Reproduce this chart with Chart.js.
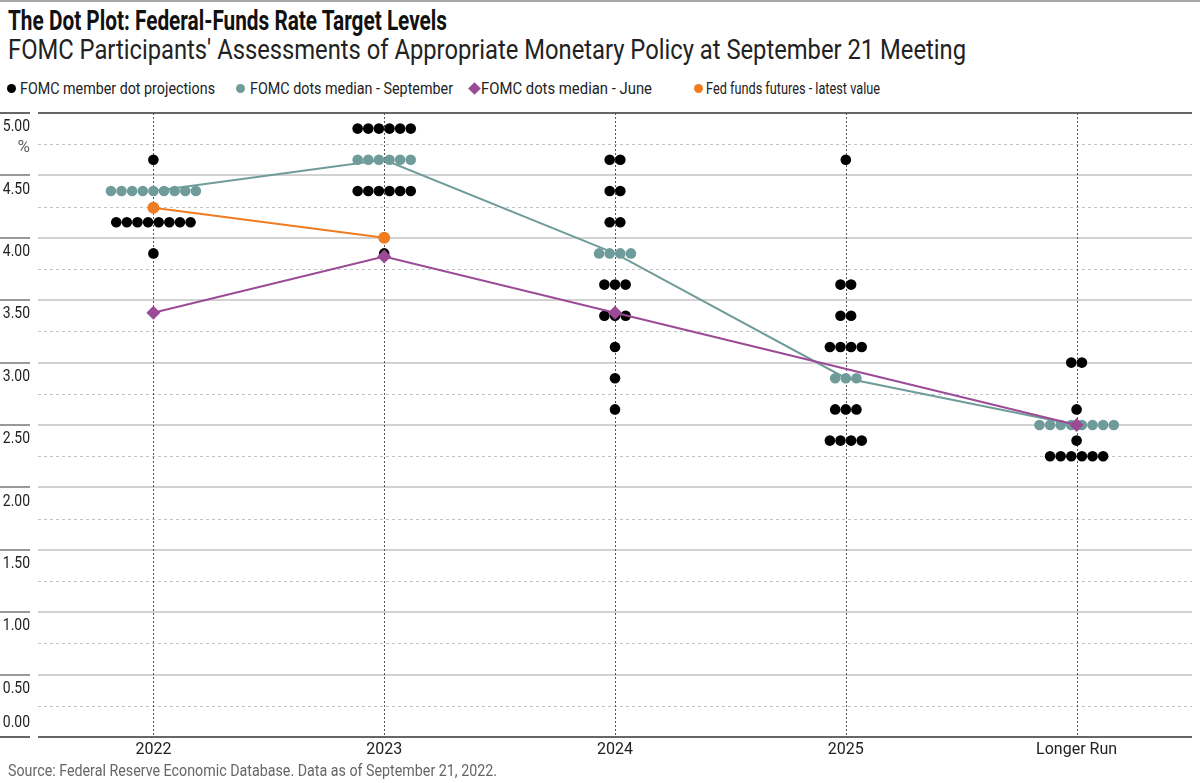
<!DOCTYPE html>
<html>
<head>
<meta charset="utf-8">
<script src="https://cdn.jsdelivr.net/npm/chart.js@4.4.1/dist/chart.umd.min.js"></script>
<style>
  body { margin: 0; background: #fff; }
  #wrap { position: relative; width: 1200px; height: 783px; overflow: hidden;
          font-family: Roboto, "Liberation Sans", sans-serif; color: #222; }
  #topline { position: absolute; left: 0; top: 0; width: 1200px; height: 2px; background: #a6a6a6; }
  .txt { position: absolute; white-space: nowrap; line-height: 1; transform-origin: left center; }
  #title { left: 8px; top: 7px; font-size: 28px; font-weight: bold; color: #111; }
  #subtitle { left: 8px; top: 36px; font-size: 28px; color: #222; }
  #source { left: 8px; top: 762px; font-size: 17px; color: #666; }
  .legtxt { top: 80px; font-size: 17px; color: #222; }
  .mk { position: absolute; width: 9px; height: 9px; }
  canvas { position: absolute; left: 0; top: 0; }
</style>
</head>
<body>
<div id="wrap">
  <div id="topline"></div>
  <div class="txt" id="title" data-w="439">The Dot Plot: Federal-Funds Rate Target Levels</div>
  <div class="txt" id="subtitle" data-w="958">FOMC Participants' Assessments of Appropriate Monetary Policy at September 21 Meeting</div>

  <div class="mk" style="left:7px;top:84px;border-radius:50%;background:#000"></div>
  <div class="txt legtxt" style="left:20px" data-w="195">FOMC member dot projections</div>
  <div class="mk" style="left:236px;top:84px;border-radius:50%;background:#6f9c9a"></div>
  <div class="txt legtxt" style="left:250px" data-w="203">FOMC dots median - September</div>
  <div class="mk" style="left:470px;top:84px;background:#9b4a96;transform:rotate(45deg)"></div>
  <div class="txt legtxt" style="left:481px" data-w="171">FOMC dots median - June</div>
  <div class="mk" style="left:694px;top:84px;border-radius:50%;background:#f07c22"></div>
  <div class="txt legtxt" style="left:706px" data-w="174">Fed funds futures - latest value</div>

  <canvas id="dotChart" width="1200" height="783"></canvas>
  <div class="txt" id="source" data-w="489">Source: Federal Reserve Economic Database. Data as of September 21, 2022.</div>
</div>
<script>
const categories = ["2022", "2023", "2024", "2025", "Longer Run"];

// member projections: rate levels and number of participants at each level
const levels2022 = [4.625, 4.375, 4.125, 3.875];
const counts2022 = [1, 9, 8, 1];
const levels2023 = [4.875, 4.625, 4.375, 3.875];
const counts2023 = [6, 6, 6, 1];
const levels2024 = [4.625, 4.375, 4.125, 3.875, 3.625, 3.375, 3.125, 2.875, 2.625];
const counts2024 = [2, 2, 2, 4, 3, 3, 1, 1, 1];
const levels2025 = [4.625, 3.625, 3.375, 3.125, 2.875, 2.625, 2.375];
const counts2025 = [1, 2, 2, 4, 3, 3, 4];
const levelsLR = [3.0, 2.625, 2.5, 2.375, 2.25];
const countsLR = [2, 1, 8, 1, 6];

const septMedian = [4.375, 4.625, 3.875, 2.875, 2.5];
const juneMedian = [3.4, 3.85, 3.4, null, 2.5];
const fedFutures = [4.24, 4.0, null, null, null];

const yTicks = [0, 0.5, 1, 1.5, 2, 2.5, 3, 3.5, 4, 4.5, 5];
const yStep = 0.25;

const FONT = 'Roboto, "Liberation Sans", sans-serif';
const BLACK = "#000000";
const TEAL = "#6f9c9a";
const PURPLE = "#9b4a96";
const ORANGE = "#f07c22";
const DOT_STEP = 0.046; // horizontal gap between side-by-side dots, in category units

// squeeze html text to the condensed widths of the original
function fitText() {
  document.querySelectorAll("[data-w]").forEach((el) => {
    el.style.transform = "none";
    const w = el.getBoundingClientRect().width;
    el.style.transform = "scaleX(" + el.dataset.w / w + ")";
  });
}
fitText();
if (document.fonts) document.fonts.ready.then(fitText);

const allLevels = [levels2022, levels2023, levels2024, levels2025, levelsLR];
const allCounts = [counts2022, counts2023, counts2024, counts2025, countsLR];

const memberDots = [];
const medianDots = [];
allLevels.forEach((levels, i) => {
  levels.forEach((level, j) => {
    const n = allCounts[i][j];
    for (let k = 0; k < n; k++) {
      const pt = { x: i + (k - (n - 1) / 2) * DOT_STEP, y: level };
      if (level === septMedian[i]) medianDots.push(pt);
      else memberDots.push(pt);
    }
  });
});

const toXY = (arr) => arr.map((v, i) => ({ x: i, y: v }));

// grid lines, category guides and y labels
const gridPlugin = {
  id: "dotGrid",
  beforeDatasetsDraw(chart) {
    const { ctx, chartArea: a, scales } = chart;
    const y = scales.y;
    const x = scales.x;
    ctx.save();
    for (let v = 0; v <= 5.0001; v += yStep) {
      const val = Math.round(v * 100) / 100;
      const py = Math.round(y.getPixelForValue(val));
      const major = yTicks.includes(val);
      const edge = val === 0 || val === 5;
      ctx.beginPath();
      if (edge) {
        ctx.strokeStyle = "#666";
        ctx.lineWidth = 2;
        ctx.setLineDash([]);
      } else if (major) {
        ctx.strokeStyle = "#d2d2d2";
        ctx.lineWidth = 2;
        ctx.setLineDash([]);
      } else {
        ctx.strokeStyle = "#c4c4c4";
        ctx.lineWidth = 1;
        ctx.setLineDash([3, 3]);
      }
      const off = ctx.lineWidth === 1 ? 0.5 : 0;
      ctx.moveTo(a.left, py + off);
      ctx.lineTo(a.right, py + off);
      ctx.stroke();
      if (major) {
        ctx.beginPath();
        ctx.setLineDash([]);
        ctx.lineWidth = 2;
        ctx.strokeStyle = edge ? "#666" : "#999";
        ctx.moveTo(0, py);
        ctx.lineTo(30, py);
        ctx.stroke();
      }
    }
    ctx.setLineDash([2, 2]);
    ctx.strokeStyle = "#555";
    ctx.lineWidth = 1;
    categories.forEach((c, i) => {
      const px = Math.round(x.getPixelForValue(i)) + 0.5;
      ctx.beginPath();
      ctx.moveTo(px, a.top);
      ctx.lineTo(px, a.bottom);
      ctx.stroke();
    });
    ctx.setLineDash([]);
    ctx.font = "17px " + FONT;
    ctx.textAlign = "right";
    ctx.textBaseline = "middle";
    ctx.fillStyle = "#222";
    yTicks.forEach((val) => {
      const py = y.getPixelForValue(val);
      ctx.save();
      ctx.translate(30, val === 0 ? py - 14 : py + 14);
      ctx.scale(0.82, 1);
      ctx.fillText(val.toFixed(2), 0, 0);
      ctx.restore();
    });
    ctx.fillStyle = "#666";
    ctx.fillText("%", 30, y.getPixelForValue(5) + 35);
    ctx.restore();
  },
};

new Chart(document.getElementById("dotChart"), {
  type: "scatter",
  data: {
    datasets: [
      {
        label: "FOMC dots median - June",
        type: "line",
        data: toXY(juneMedian),
        borderColor: PURPLE,
        backgroundColor: PURPLE,
        borderWidth: 2,
        pointStyle: "rectRot",
        pointRadius: 7,
        pointBorderWidth: 0,
        spanGaps: true,
        order: 0,
      },
      {
        label: "Fed funds futures - latest value",
        type: "line",
        data: toXY(fedFutures),
        borderColor: ORANGE,
        backgroundColor: ORANGE,
        borderWidth: 2,
        pointRadius: 6,
        pointBorderWidth: 0,
        order: 1,
      },
      {
        label: "FOMC dots median - September",
        type: "line",
        data: toXY(septMedian),
        borderColor: TEAL,
        borderWidth: 2,
        pointRadius: 0,
        order: 2,
      },
      {
        label: "FOMC dots median - September",
        data: medianDots,
        backgroundColor: TEAL,
        pointRadius: 5.3,
        pointBorderWidth: 0,
        order: 3,
      },
      {
        label: "FOMC member dot projections",
        data: memberDots,
        backgroundColor: BLACK,
        pointRadius: 5.3,
        pointBorderWidth: 0,
        order: 4,
      },
    ],
  },
  options: {
    responsive: false,
    animation: false,
    clip: false,
    layout: { padding: { top: 113, left: 38, right: 8, bottom: 0 } },
    plugins: {
      legend: { display: false },
      tooltip: { enabled: false },
    },
    scales: {
      x: {
        type: "linear",
        min: -0.5,
        max: 4.5,
        afterFit: (s) => { s.height = 46; },
        afterBuildTicks: (s) => { s.ticks = categories.map((c, i) => ({ value: i })); },
        grid: { display: false, drawTicks: false },
        border: { display: false },
        ticks: {
          padding: 3,
          color: "#222",
          maxRotation: 0,
          font: { family: FONT, size: 16 },
          callback: (v) => categories[v],
        },
      },
      y: {
        display: false,
        min: 0,
        max: 5,
      },
    },
  },
  plugins: [gridPlugin],
});
</script>
</body>
</html>
